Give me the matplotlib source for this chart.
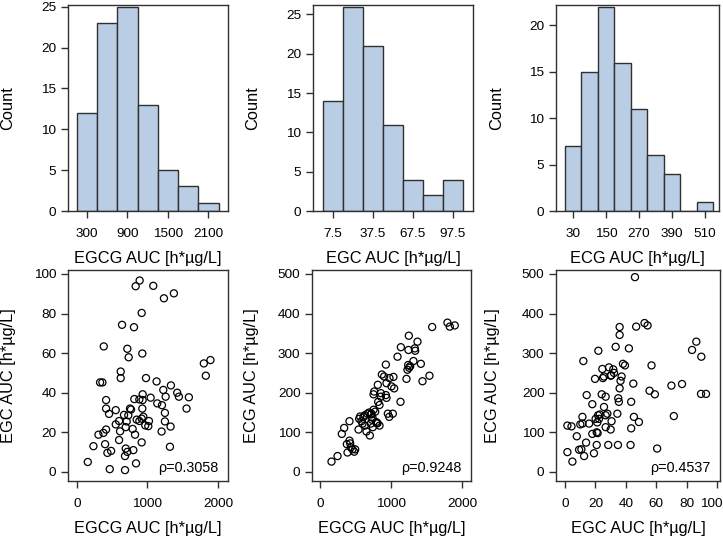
import matplotlib
matplotlib.use("Agg")
import matplotlib.pyplot as plt
from matplotlib.transforms import ScaledTranslation

plt.rcParams["font.family"] = ["Liberation Sans", "DejaVu Sans"]

# histogram bins (centers) and counts
egcg_centers = [300, 600, 900, 1200, 1500, 1800, 2100]
egcg_counts = [12, 23, 25, 13, 5, 3, 1]
egc_centers = [7.5, 22.5, 37.5, 52.5, 67.5, 82.5, 97.5]
egc_counts = [14, 26, 21, 11, 4, 2, 4]
ecg_centers = [30, 90, 150, 210, 270, 330, 390, 450, 510]
ecg_counts = [7, 15, 22, 16, 11, 6, 4, 0, 1]

egcg_ticks = [300, 900, 1500, 2100]
egc_ticks = [7.5, 37.5, 67.5, 97.5]
ecg_ticks = [30, 150, 270, 390, 510]

# scatter: EGCG vs EGC
s1_x = [155, 235, 306, 329, 362, 376, 414, 414, 414, 381, 400, 433, 456, 485, 466,
        551, 551, 598, 612, 598, 621, 621, 640, 682, 682, 692, 692, 668, 706, 715,
        734, 715, 729, 753, 767, 790, 800, 809, 824, 814, 833, 889, 838, 847, 885,
        885, 918, 927, 932, 932, 927, 918, 918, 941, 969, 979, 1012, 1021, 1045, 1082,
        1129, 1139, 1205, 1200, 1224, 1233, 1247, 1247, 1257, 1327, 1318, 1332, 1374, 1421, 1445,
        1553, 1586, 1798, 1826, 1892]
s1_y = [5.0, 13.0, 18.8, 45.2, 45.2, 19.7, 21.4, 36.3, 32.0, 63.4, 14.0, 9.6, 29.3, 10.6, 1.4,
        31.2, 24.0, 25.7, 20.5, 16.1, 50.7, 47.4, 74.3, 0.9, 8.0, 11.8, 22.6, 28.8, 25.5, 62.2,
        57.9, 10.1, 28.6, 32.0, 31.5, 21.7, 11.0, 73.1, 18.8, 36.8, 93.8, 96.7, 4.3, 26.4, 36.6,
        25.7, 80.3, 59.8, 39.2, 36.3, 32.0, 26.9, 14.9, 27.9, 23.5, 47.4, 23.1, 25.7, 37.5, 94.0,
        45.7, 34.6, 33.7, 20.4, 41.4, 87.7, 29.8, 25.5, 38.0, 22.9, 12.7, 43.7, 90.2, 40.0, 38.0,
        32.0, 37.7, 54.8, 48.6, 56.5]
rho1 = "\u03c1=0.3058"

# scatter: EGCG vs ECG
s2_x = [159, 244, 304, 337, 412, 375, 412, 384, 431, 454, 478, 492, 422, 539, 548,
        595, 609, 628, 665, 689, 651, 698, 712, 726, 721, 750, 740, 796, 759, 750,
        773, 810, 815, 834, 834, 806, 787, 852, 852, 867, 899, 923, 923, 932, 932,
        951, 970, 974, 1002, 1021, 1030, 1040, 1087, 1129, 1134, 1213, 1227, 1241, 1246, 1237,
        1250, 1265, 1311, 1330, 1335, 1368, 1415, 1438, 1536, 1574, 1789, 1822, 1892, 581, 628,
        735, 712, 562]
s2_y = [26, 40, 96, 111, 128, 70, 79, 49, 62, 57, 51, 57, 72, 107, 134,
        122, 139, 117, 147, 150, 102, 92, 122, 132, 147, 157, 113, 123, 203, 196,
        152, 220, 177, 169, 117, 123, 126, 199, 190, 246, 241, 271, 194, 224, 187,
        147, 139, 237, 216, 147, 240, 211, 291, 177, 315, 235, 258, 308, 344, 270,
        263, 267, 280, 312, 306, 329, 273, 229, 243, 366, 377, 367, 370, 128, 143,
        137, 145, 140]
rho2 = "\u03c1=0.9248"

# scatter: EGC vs ECG
s3_x = [1.5, 1.5, 4.2, 4.8, 7.7, 9.2, 10.0, 10.7, 11.4, 11.4, 12.0, 12.5, 13.8, 14.2, 15.8,
        17.9, 17.9, 19.0, 19.7, 20.1, 20.8, 20.8, 21.2, 21.7, 21.9, 22.3, 22.8, 21.4, 24.1, 24.5,
        24.9, 25.6, 25.6, 26.7, 26.7, 26.7, 27.8, 28.4, 28.9, 30.0, 30.0, 30.4, 30.6, 31.7, 32.2,
        33.3, 34.4, 34.8, 35.0, 35.4, 35.9, 35.9, 35.9, 36.5, 37.2, 38.1, 39.4, 42.0, 43.1, 43.5,
        43.5, 44.9, 45.3, 46.0, 46.8, 48.6, 52.3, 54.3, 55.6, 56.9, 59.1, 60.6, 70.0, 71.6, 77.0,
        83.6, 86.4, 89.7, 89.5, 92.8]
s3_y = [50, 117, 115, 26, 90, 56, 120, 57, 122, 139, 280, 40, 74, 194, 122,
        171, 96, 47, 235, 134, 68, 100, 125, 143, 306, 134, 145, 98, 196, 260,
        237, 241, 164, 190, 143, 113, 147, 68, 264, 243, 107, 244, 128, 259, 250,
        316, 147, 68, 186, 177, 366, 346, 211, 230, 241, 273, 269, 312, 68, 110,
        177, 223, 139, 492, 367, 126, 376, 370, 205, 269, 196, 59, 218, 141, 222,
        308, 329, 291, 197, 197]
rho3 = "\u03c1=0.4537"

egcg_label = "EGCG AUC [h*\u00b5g/L]"
egc_label = "EGC AUC [h*\u00b5g/L]"
ecg_label = "ECG AUC [h*\u00b5g/L]"

W, H = 723, 537
BAR_FILL = "#b9cde5"
EDGE = "#303030"


def make_axes(fig, x0, x1, y0, y1, ylab_px):
    ax = fig.add_axes([x0 / W, 1 - y1 / H, (x1 - x0) / W, (y1 - y0) / H])
    for s in ax.spines.values():
        s.set_color(EDGE)
        s.set_linewidth(1.0)
    ax.tick_params(direction="out", length=5, width=1.0, color=EDGE,
                   labelsize=9.7, labelcolor="black")
    ax.tick_params(axis="x", pad=7)
    ax.tick_params(axis="y", pad=3.3)
    # right edge of the rotated y label, in pixels from the figure's left
    ax.yaxis.set_label_coords((ylab_px - x0) / (x1 - x0), 0.5)
    return ax


def hist_panel(ax, centers, counts, width, ticks, xlim, ylim, yticks, xlabel):
    ax.bar(centers, counts, width=width, color=BAR_FILL, edgecolor=EDGE, linewidth=1.0)
    ax.set_xlim(*xlim)
    ax.set_ylim(*ylim)
    ax.set_xticks(ticks)
    ax.set_xticklabels([f"{t:g}" for t in ticks])
    ax.set_yticks(yticks)
    ax.set_xlabel(xlabel, fontsize=11.8, labelpad=8)
    ax.set_ylabel("Count", fontsize=11.8)


def scatter_panel(ax, x, y, xlim, ylim, xticks, yticks, xlabel, ylabel, rho):
    ax.scatter(x, y, s=26, facecolors="none", edgecolors="black", linewidths=0.9)
    ax.set_xlim(*xlim)
    ax.set_ylim(*ylim)
    ax.set_xticks(xticks)
    ax.set_yticks(yticks)
    ax.set_xlabel(xlabel, fontsize=11.8, labelpad=8)
    ax.set_ylabel(ylabel, fontsize=11.8)
    ax.text(0.94, 0.043, rho, transform=ax.transAxes, ha="right", va="baseline",
            fontsize=10.4)


fig = plt.figure(figsize=(W / 100, H / 100), dpi=100)

ax = make_axes(fig, 68, 228, 5, 211, 15)
hist_panel(ax, egcg_centers, egcg_counts, 300, egcg_ticks, (20, 2390), (0, 25.2),
           range(0, 26, 5), egcg_label)

ax = make_axes(fig, 313, 473, 5, 211, 260)
hist_panel(ax, egc_centers, egc_counts, 15, egc_ticks, (-7.5, 112.5), (0, 26.2),
           range(0, 26, 5), egc_label)

ax = make_axes(fig, 556, 719, 5, 211, 504)
hist_panel(ax, ecg_centers, ecg_counts, 60, ecg_ticks, (-32, 561), (0, 22.2),
           range(0, 21, 5), ecg_label)

ax = make_axes(fig, 68, 228, 270, 481, 16)
scatter_panel(ax, s1_x, s1_y, (-125, 2140), (-4.6, 102), [0, 1000, 2000],
              range(0, 101, 20), egcg_label, egc_label, rho1)

ax = make_axes(fig, 312, 471, 270, 481, 259)
scatter_panel(ax, s2_x, s2_y, (-115, 2120), (-23, 510), [0, 1000, 2000],
              range(0, 501, 100), egcg_label, ecg_label, rho2)

ax = make_axes(fig, 556, 720, 270, 481, 500)
scatter_panel(ax, s3_x, s3_y, (-6, 102), (-23, 510), range(0, 101, 20),
              range(0, 501, 100), egc_label, ecg_label, rho3)
# the last tick label sits against the figure edge; nudge it left to keep it visible
last = ax.get_xticklabels()[-1]
last.set_transform(last.get_transform() + ScaledTranslation(-6 / 100, 0, fig.dpi_scale_trans))

fig.savefig("out.png", dpi=100)
